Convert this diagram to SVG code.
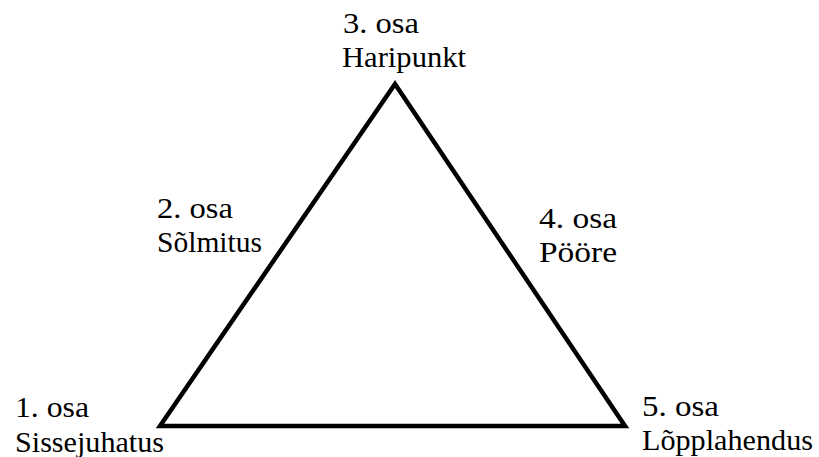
<svg xmlns="http://www.w3.org/2000/svg" width="819" height="457" viewBox="0 0 819 457">
<style>
text{font-family:'Liberation Serif','Times New Roman',serif;font-size:30px;fill:#000}
.tri{fill:none;stroke:#000;stroke-width:4.5;stroke-linejoin:miter}
</style>
<rect width="819" height="457" fill="#fff"/>
<g id="connectors">
<polygon class="tri" points="395,84 160,426 625,426"/>
</g>
<g id="osa3"><text x="343" y="33" textLength="76" lengthAdjust="spacingAndGlyphs">3. osa</text><text x="342" y="67" textLength="124" lengthAdjust="spacingAndGlyphs">Haripunkt</text></g>
<g id="osa2"><text x="157" y="218" textLength="76" lengthAdjust="spacingAndGlyphs">2. osa</text><text x="157" y="252" textLength="105" lengthAdjust="spacingAndGlyphs">Sõlmitus</text></g>
<g id="osa4"><text x="539" y="228" textLength="78" lengthAdjust="spacingAndGlyphs">4. osa</text><text x="539" y="262" textLength="78" lengthAdjust="spacingAndGlyphs">Pööre</text></g>
<g id="osa1"><text x="15" y="417" textLength="74" lengthAdjust="spacingAndGlyphs">1. osa</text><text x="15" y="452" textLength="149" lengthAdjust="spacingAndGlyphs">Sissejuhatus</text></g>
<g id="osa5"><text x="642" y="416" textLength="77" lengthAdjust="spacingAndGlyphs">5. osa</text><text x="642" y="450" textLength="171" lengthAdjust="spacingAndGlyphs">Lõpplahendus</text></g>
</svg>
